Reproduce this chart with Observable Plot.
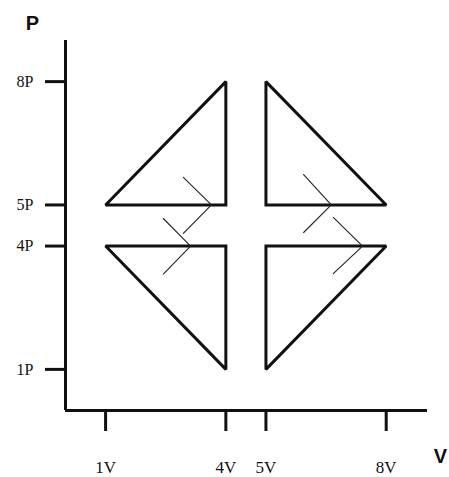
<!DOCTYPE html>
<html>
<head>
<meta charset="utf-8">
<script src="https://cdn.jsdelivr.net/npm/d3@7"></script>
<script src="https://cdn.jsdelivr.net/npm/@observablehq/plot@0.6"></script>
<style>
  html, body { margin: 0; padding: 0; background: #fff; }
  #chart svg { display: block; }
</style>
</head>
<body>
<div id="chart"></div>
<script>
// Tick values and labels
const vTicks = [1, 4, 5, 8];
const vLabels = ["1V", "4V", "5V", "8V"];
const pTicks = [1, 4, 5, 8];
const pLabels = ["1P", "4P", "5P", "8P"];

// Four triangular cycles (vertices in V and P units)
const cycleNames = ["upperLeft", "upperRight", "lowerLeft", "lowerRight"];
const cycleV = [[1, 4, 4], [5, 5, 8], [1, 4, 4], [5, 8, 5]];
const cycleP = [[5, 8, 5], [8, 5, 5], [4, 4, 1], [1, 4, 4]];

// Arrowhead chevrons (arm, tip, arm)
const arrowNames = ["a1", "a2", "a3", "a4"];
const arrowV = [[2.94, 3.64, 2.94], [2.44, 3.12, 2.44], [5.94, 6.63, 5.94], [6.68, 7.41, 6.68]];
const arrowP = [[5.67, 5.0, 4.31], [4.67, 4.0, 3.32], [5.74, 5.0, 4.33], [4.70, 4.0, 3.33]];

const triRows = cycleNames.flatMap((name, i) =>
  cycleV[i].map((v, j) => ({name, v, p: cycleP[i][j]})));
const arrowRows = arrowNames.flatMap((name, i) =>
  arrowV[i].map((v, j) => ({name, v, p: arrowP[i][j]})));

const vLabelMap = new Map(vTicks.map((d, i) => [d, vLabels[i]]));
const pLabelMap = new Map(pTicks.map((d, i) => [d, pLabels[i]]));

const ink = "#111";

const chart = Plot.plot({
  width: 449,
  height: 477,
  marginLeft: 65,
  marginRight: 22,
  marginTop: 40,
  marginBottom: 67,
  style: {fontFamily: "'Liberation Serif', 'DejaVu Serif', serif", color: ink, background: "#fff"},
  x: {type: "linear", domain: [0, 9.03]},
  y: {type: "linear", domain: [0, 9]},
  marks: [
    Plot.axisX(vTicks, {
      tickSize: 21, tickPadding: 29, strokeWidth: 3, fontSize: 17,
      tickFormat: d => vLabelMap.get(d), label: null
    }),
    Plot.axisY(pTicks, {
      tickSize: 20, tickPadding: 12, strokeWidth: 3, fontSize: 16,
      tickFormat: d => pLabelMap.get(d), label: null
    }),
    Plot.ruleX([0], {stroke: ink, strokeWidth: 3}),
    Plot.ruleY([0], {stroke: ink, strokeWidth: 3}),
    Plot.line(triRows, {
      x: "v", y: "p", z: "name", curve: "linear-closed",
      stroke: ink, strokeWidth: 3, strokeLinejoin: "miter", strokeMiterlimit: 2
    }),
    Plot.line(arrowRows, {
      x: "v", y: "p", z: "name", stroke: "#222", strokeWidth: 1.1
    }),
    Plot.text(["P"], {
      frameAnchor: "top-left", dx: -33, dy: -17,
      fontFamily: "'Liberation Sans', Arial, sans-serif", fontWeight: "bold", fontSize: 20,
      fill: ink, textAnchor: "middle", lineAnchor: "middle"
    }),
    Plot.text(["V"], {
      frameAnchor: "bottom-right", dx: 13, dy: 46,
      fontFamily: "'Liberation Sans', Arial, sans-serif", fontWeight: "bold", fontSize: 20,
      fill: ink, textAnchor: "middle", lineAnchor: "middle"
    })
  ]
});

document.getElementById("chart").appendChild(chart);
</script>
</body>
</html>
